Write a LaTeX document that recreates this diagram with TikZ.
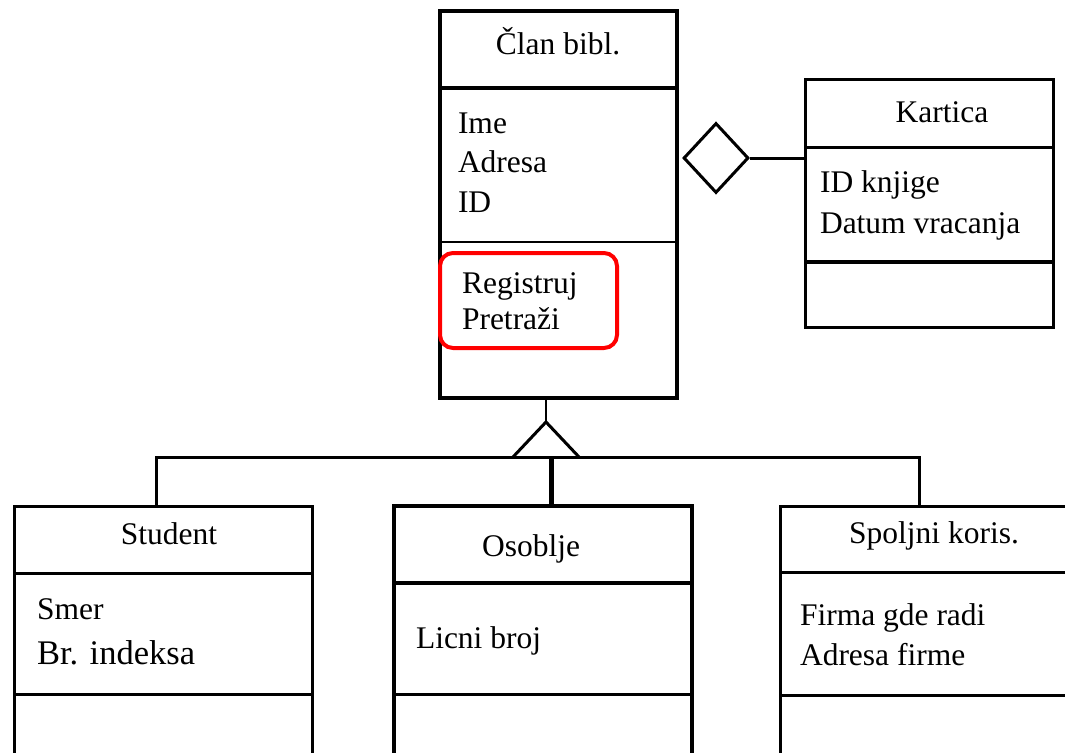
\documentclass[tikz,border=0pt]{standalone}
\usepackage{fontspec}
\setmainfont{Liberation Serif}
\usetikzlibrary{shapes.geometric}
\begin{document}
\begin{tikzpicture}[x=1pt,y=-1pt,
  cls/.style={draw=black, fill=none, inner sep=0pt, outer sep=0pt, anchor=north west},
  txt/.style={inner sep=0pt, outer sep=0pt, font=\fontsize{31.5}{38}\selectfont},
  ttl/.style={txt, anchor=base},
  att/.style={txt, anchor=base west},
  thinl/.style={line width=2.2pt},
  midl/.style={line width=3pt},
  thickl/.style={line width=4pt}]
\useasboundingbox (0,0) rectangle (1065,752);
\clip (0,0) rectangle (1065,752);
% main class
\node[cls, thickl, minimum width=237pt, minimum height=387pt] (clan) at (440,11) {};
\coordinate (c1) at (440,88);
\coordinate (c2) at (440,242);
\draw[thickl] (c1) -- (c1 -| clan.east);
\draw[thinl] (c2) -- (c2 -| clan.east);
\node[ttl] (tclan) at (558,55) {Član bibl.};
\node[att] (a1) at (458,133) {Ime};
\node[att] (a2) at (458,172) {Adresa};
\node[att] (a3) at (458,212) {ID};
\node[cls, draw=red, line width=4pt, rounded corners=13pt, minimum width=177pt, minimum height=95pt] (hl) at (440,253) {};
\node[att] (m1) at (462,293) {Registruj};
\node[att] (m2) at (462,329) {Pretraži};
% Kartica
\node[cls, midl, minimum width=248pt, minimum height=248pt] (kart) at (805,79) {};
\coordinate (k1) at (805,147);
\coordinate (k2) at (805,262);
\draw[midl] (k1) -- (k1 -| kart.east);
\draw[thickl] (k2) -- (k2 -| kart.east);
\node[ttl] (tkart) at (942,122) {Kartica};
\node[att] (k1t) at (820,192) {ID knjige};
\node[att] (k2t) at (820,233) {Datum vracanja};
% aggregation
\node[diamond, draw=black, midl, inner sep=0pt, minimum width=65pt, minimum height=70pt] (dia) at (716,158) {};
\draw[midl] (dia.east) -- (dia.east -| kart.west);
% Student
\node[cls, midl, minimum width=298pt, minimum height=300pt] (stu) at (14,506) {};
\coordinate (s1) at (14,573);
\coordinate (s2) at (14,694);
\draw[midl] (s1) -- (s1 -| stu.east);
\draw[midl] (s2) -- (s2 -| stu.east);
\node[ttl] (tstu) at (169,544) {Student};
\node[att] (s1t) at (37,619) {Smer};
\node[att, font=\fontsize{34.5}{40}\selectfont] (s2t) at (37,664) {Br. indeksa};
% Osoblje
\node[cls, thickl, minimum width=298pt, minimum height=300pt] (oso) at (394,506) {};
\coordinate (o1) at (394,583);
\coordinate (o2) at (394,694);
\draw[thickl] (o1) -- (o1 -| oso.east);
\draw[midl] (o2) -- (o2 -| oso.east);
\node[ttl] (toso) at (531,556) {Osoblje};
\node[att] (o1t) at (416,648) {Licni broj};
% Spoljni
\node[cls, midl, minimum width=300pt, minimum height=300pt] (spo) at (780,506) {};
\coordinate (p1) at (780,572);
\coordinate (p2) at (780,695);
\draw[midl] (p1) -- (p1 -| spo.east);
\draw[midl] (p2) -- (p2 -| spo.east);
\node[ttl] (tspo) at (934,543) {Spoljni koris.};
\node[att] (p1t) at (800,625) {Firma gde radi};
\node[att] (p2t) at (800,665) {Adresa firme};
% inheritance
\coordinate (apex) at (546,422);
\coordinate (bl) at (513,457);
\coordinate (br) at (579,457);
\coordinate (jL) at (156,457);
\coordinate (jR) at (919,457);
\coordinate (jM) at (551,457);
\draw[thinl] (apex |- clan.south) -- (apex);
\draw[midl, line join=miter] (bl) -- (apex) -- (br);
\draw[midl] (jL |- stu.north) -- (jL) -- (jR) -- (jR |- spo.north);
\draw[line width=5pt] (jM) -- (jM |- oso.north);
\end{tikzpicture}
\end{document}
